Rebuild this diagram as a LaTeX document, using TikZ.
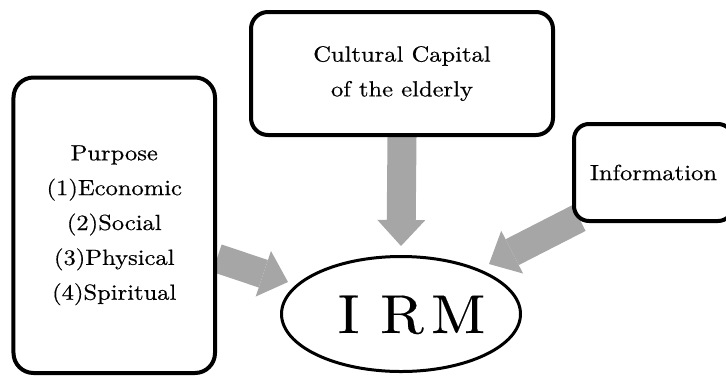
\documentclass[tikz,border=0pt]{standalone}
\usepackage{fontspec}
\setmainfont{lmroman10-regular.otf}[FakeStretch=1.12,FakeBold=0.5]
\newfontfamily\irmfont{lmroman10-regular.otf}[FakeStretch=1.08,FakeBold=0.3]
\usetikzlibrary{arrows.meta,shapes.geometric,calc,backgrounds}
\definecolor{arrowgray}{HTML}{A6A6A6}
\begin{document}
\begin{tikzpicture}[x=1bp,y=-1bp,
  box/.style={draw=black,line width=4bp,fill=white,inner sep=0pt,align=center,
    font=\fontsize{22}{35}\selectfont},
  irmshape/.style={draw=black,line width=3bp,ellipse,inner sep=0pt,
    minimum width=239bp,minimum height=115bp},
  irmtext/.style={inner sep=0pt,font=\irmfont\fontsize{55}{60}\selectfont},
  bigarrow/.style={draw=arrowgray,line width=29bp,
    -{Triangle[length=26bp,width=48bp,line width=0pt]}}]
\useasboundingbox (0,0) rectangle (726,376);
\clip (0,0) rectangle (726,376);
% boxes
\node[box,rounded corners=20bp,minimum width=201.5bp,minimum height=295.5bp] (L) at (114.25,225.25)
  {Purpose\\(1)Economic\\(2)Social\\(3)Physical\\(4)Spiritual};
\node[box,rounded corners=17bp,minimum width=302bp,minimum height=123bp] (T) at (402,73.5)
  {Cultural Capital\\of the elderly};
\node[box,rounded corners=15bp,minimum width=159bp,minimum height=97bp] (R) at (653.5,172.5)
  {Information};
\node[irmshape] (irm) at (401,314) {};
\node[irmtext,anchor=base west] (irmlabel) at (337.8,333) {I\kern21pt R\kern7.3pt M};
% arrows
\begin{pgfonlayer}{background}
\coordinate (ltail) at ($(L.east)+(0,33)$);
\coordinate (ltip) at ($(irm.center)+(-113,-32)$);
\coordinate (ttip) at ($(irm.north)+(0,-9)$);
\coordinate (rtail) at ($(R.south west)+(7,-5)$);
\coordinate (rtip) at ($(irm.center)+(88,-50)$);
\draw[bigarrow] (ltail) -- (ltip);
\draw[bigarrow] (T.south) -- (ttip);
\draw[bigarrow] (rtail) -- (rtip);
\end{pgfonlayer}
\end{tikzpicture}
\end{document}
